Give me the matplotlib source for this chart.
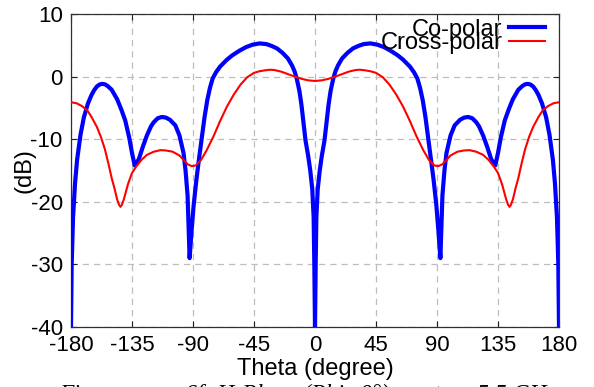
import matplotlib
matplotlib.use("Agg")
import matplotlib.pyplot as plt

# H-plane radiation pattern, theta in degrees, levels in dB
theta_co = [-180, -179.5, -178.5, -177, -175.5, -173, -170.5, -167.5, -165, -163,
            -161, -159, -157, -155, -153, -150, -146, -143, -140, -137,
            -135, -133, -130, -127, -124, -121, -119, -116, -113, -110,
            -107, -103, -100, -97, -95.5, -94, -92.5, -91, -89.5, -87.5,
            -85.5, -83.5, -81.5, -79.5, -77.5, -75.5, -73, -70, -65, -61,
            -56, -51, -46, -41, -36, -32, -28, -24, -20, -17,
            -15, -13.5, -11.5, -10, -7, -5, -3.5, -2, -1, -0.5,
            0, 0.5, 1, 2, 3.5, 5, 7, 10, 11.5, 13.5,
            15, 17, 20, 24, 28, 32, 36, 41, 46, 51,
            56, 61, 65, 70, 73, 75.5, 77.5, 79.5, 81.5, 83.5,
            85.5, 87.5, 89.5, 91, 92.5, 94, 95.5, 97, 100, 103,
            107, 110, 113, 116, 119, 121, 124, 127, 130, 133,
            135, 137, 140, 143, 146, 150, 153, 155, 157, 159,
            161, 163, 165, 167.5, 170.5, 173, 175.5, 177, 178.5, 179.5,
            180]
co_polar = [-40, -30, -22.5, -17, -13.3, -9.3, -6.5, -4.3, -3.0, -2.2,
            -1.6, -1.27, -1.16, -1.23, -1.5, -2.1, -3.6, -5.2, -7.0, -9.8,
            -12.2, -14.2, -13.2, -11.2, -9.4, -7.95, -7.3, -6.65, -6.45, -6.55,
            -6.9, -7.8, -9.4, -12.2, -15, -19, -29, -24.5, -20.5, -16.5,
            -13, -9.8, -6.5, -3.8, -1.8, -0.3, 0.7, 1.6, 2.7, 3.4,
            4.1, 4.7, 5.1, 5.3, 5.2, 4.9, 4.5, 3.8, 2.9, 1.8,
            0.8, -0.3, -2.3, -4.5, -10.2, -12.7, -15, -18, -22.5, -30,
            -40, -30, -22.5, -18, -15, -12.7, -10.2, -4.5, -2.3, -0.3,
            0.8, 1.8, 2.9, 3.8, 4.5, 4.9, 5.2, 5.3, 5.1, 4.7,
            4.1, 3.4, 2.7, 1.6, 0.7, -0.3, -1.8, -3.8, -6.5, -9.8,
            -13, -16.5, -20.5, -24.5, -29, -19, -15, -12.2, -9.4, -7.8,
            -6.9, -6.55, -6.45, -6.65, -7.3, -7.95, -9.4, -11.2, -13.2, -14.2,
            -12.2, -9.8, -7.0, -5.2, -3.6, -2.1, -1.5, -1.23, -1.16, -1.27,
            -1.6, -2.2, -3.0, -4.3, -6.5, -9.3, -13.3, -17, -22.5, -30,
            -40]

theta_cx = [-180, -176, -172, -168, -165, -161, -158, -155, -152.5, -150,
            -148, -146, -144.5, -143.5, -142.5, -141, -138, -135, -132, -128,
            -124, -119, -114, -110, -105, -100, -97, -94, -91, -88,
            -84, -80, -75, -70, -65, -60, -55, -50, -45, -41,
            -37, -33, -30, -25, -20, -15, -10, -5,
            0, 5, 10, 15, 20, 25, 30, 33, 37, 41,
            45, 50, 55, 60, 65, 70, 75, 80, 84, 88,
            91, 94, 97, 100, 105, 110, 114, 119, 124, 128,
            132, 135, 138, 141, 142.5, 143.5, 144.5, 146, 148, 150,
            152.5, 155, 158, 161, 165, 168, 172, 176, 180]
cross_polar = [-4.1, -4.25, -4.7, -5.4, -6.4, -8.0, -9.6, -11.6, -13.8, -16.2,
               -17.8, -19.6, -20.5, -20.8, -20.5, -19.6, -17.2, -15.4, -14.4, -13.3,
               -12.5, -12.0, -11.75, -11.8, -12.0, -12.6, -13.3, -14.0, -14.3, -14.2,
               -13.3, -11.8, -9.6, -7.1, -4.8, -2.9, -1.3, -0.1, 0.6, 0.85,
               1.0, 1.1, 1.05, 0.8, 0.4, 0.0, -0.35, -0.6,
               -0.7, -0.6, -0.35, 0.0, 0.4, 0.8, 1.05, 1.1, 1.0, 0.85,
               0.6, -0.1, -1.3, -2.9, -4.8, -7.1, -9.6, -11.8, -13.3, -14.2,
               -14.3, -14.0, -13.3, -12.6, -12.0, -11.8, -11.75, -12.0, -12.5, -13.3,
               -14.4, -15.4, -17.2, -19.6, -20.5, -20.8, -20.5, -19.6, -17.8, -16.2,
               -13.8, -11.6, -9.6, -8.0, -6.4, -5.4, -4.7, -4.25, -4.1]

x_ticks = [-180, -135, -90, -45, 0, 45, 90, 135, 180]
y_ticks = [-40, -30, -20, -10, 0, 10]

plt.rcParams['font.family'] = ['Liberation Sans', 'DejaVu Sans']
plt.rcParams['axes.unicode_minus'] = False

fig = plt.figure(figsize=(5.94, 3.87), dpi=100)
ax = fig.add_axes([71 / 594, 1 - 327 / 387, 488 / 594, 313 / 387])

ax.plot(theta_co, co_polar, color='#0000ff', lw=3.0, label='Co-polar',
        solid_joinstyle='round', zorder=3)
ax.plot(theta_cx, cross_polar, color='#ff0000', lw=1.5, label='Cross-polar',
        zorder=4)

ax.set_xlim(-180, 180)
ax.set_ylim(-40, 10)
ax.set_xticks(x_ticks)
ax.set_yticks(y_ticks)
ax.tick_params(direction='in', length=4, width=0.8, labelsize=16,
               top=True, right=True, pad=6, colors='#202020',
               labelcolor='black')
ax.grid(True, color='#bdbdbd', linestyle=(0, (5, 4)), linewidth=0.9)
for s in ax.spines.values():
    s.set_color('#303030')
    s.set_linewidth(0.9)

ax.set_xlabel('Theta (degree)', fontsize=17, labelpad=1)
ax.set_ylabel('(dB)', fontsize=17, labelpad=-3.5)

leg = ax.legend(loc='upper right', bbox_to_anchor=(0.971, 0.985),
                frameon=False, fontsize=17, markerfirst=False,
                handlelength=1.5, handletextpad=0.3, labelspacing=-0.37,
                borderpad=0, borderaxespad=0)

# caption line below the chart, mostly running off the bottom edge
cap_style = dict(fontsize=17, style='italic',
                 family=['Liberation Serif', 'DejaVu Serif'], va='baseline')
cap_y = -0.033
fig.text(123 / 594, cap_y, 'Figure', ha='right', **cap_style)
fig.text(185 / 594, cap_y, '6f: H-Plane (Phi=0°)', ha='left', **cap_style)
fig.text(432 / 594, cap_y, 'at', ha='center', **cap_style)
fig.text(477 / 594, cap_y, '5.5 GHz', ha='left', **cap_style)

fig.savefig('out.png', dpi=100)
